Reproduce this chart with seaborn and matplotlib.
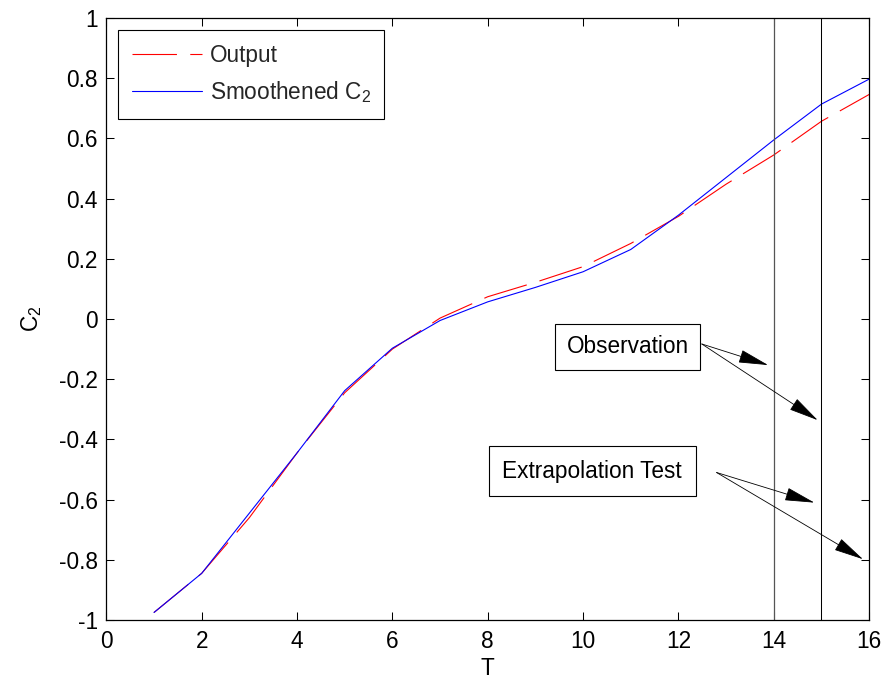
import numpy as np
import pandas as pd
import seaborn as sns
import matplotlib
matplotlib.use("Agg")
import matplotlib.pyplot as plt
from matplotlib.ticker import FuncFormatter

# ---- data ----
T = [1, 2, 3, 4, 5, 6, 7, 8, 9, 10, 11, 12, 13, 14, 15, 16]
output_vals = [-0.975, -0.845, -0.66, -0.445, -0.245, -0.10, 0.003, 0.074, 0.122,
               0.174, 0.251, 0.341, 0.448, 0.545, 0.657, 0.746]
smooth_vals = [-0.975, -0.845, -0.645, -0.445, -0.238, -0.097, -0.005, 0.057, 0.105,
               0.157, 0.231, 0.345, 0.47, 0.595, 0.714, 0.797]
vlines_x = [14, 15]
x_ticks = [0, 2, 4, 6, 8, 10, 12, 14, 16]
y_ticks = [-1, -0.8, -0.6, -0.4, -0.2, 0, 0.2, 0.4, 0.6, 0.8, 1]
labels = ["Output", "Smoothened C$_2$"]

sns.set_theme(style="white")
plt.rcParams["font.family"] = ["Liberation Sans", "DejaVu Sans"]
plt.rcParams["mathtext.fontset"] = "custom"
plt.rcParams["mathtext.rm"] = "Liberation Sans"
plt.rcParams["mathtext.it"] = "Liberation Sans:italic"
plt.rcParams["mathtext.default"] = "regular"

FS = 16.3

fig = plt.figure(figsize=(8.86, 6.82), dpi=100)
ax = fig.add_axes([0.120, 0.0909, 0.981 - 0.120, 0.9736 - 0.0909])

df = pd.DataFrame({"T": T, "Output": output_vals, "Smooth": smooth_vals})

lw = 0.8
sns.lineplot(data=df, x="T", y="Output", ax=ax, color=(1, 0, 0), lw=lw,
             linestyle=(0, (40, 12)), label=labels[0])
sns.lineplot(data=df, x="T", y="Smooth", ax=ax, color=(0, 0, 1), lw=lw,
             label=labels[1])

ax.axvline(vlines_x[0], color="#555555", lw=0.9)
ax.axvline(vlines_x[1], color="black", lw=0.75)

ax.set_xlim(0, 16)
ax.set_ylim(-1, 1)
ax.set_xticks(x_ticks)
ax.set_yticks(y_ticks)
ax.xaxis.set_major_formatter(FuncFormatter(lambda v, p: "%g" % v))
ax.yaxis.set_major_formatter(FuncFormatter(lambda v, p: "%g" % round(v, 2)))
ax.tick_params(axis="both", direction="in", length=6, width=0.75, color="black",
               labelsize=FS, labelcolor="black", top=True, right=True,
               bottom=True, left=True)
ax.tick_params(axis="y", pad=6)
ax.tick_params(axis="x", pad=7)
for sp in ax.spines.values():
    sp.set_color("black")
    sp.set_linewidth(0.9)

ax.set_xlabel("T", fontsize=FS, color="black", labelpad=3)
ax.set_ylabel("C$_2$", fontsize=FS, color="black", labelpad=11)

leg = ax.legend(loc="upper left", bbox_to_anchor=(11.6 / 762.6, 1 - 12 / 602),
                borderaxespad=0, fontsize=FS, handlelength=3.1, handletextpad=0.35,
                labelspacing=0.55, fancybox=False, edgecolor="black",
                framealpha=1, borderpad=0.6)
leg.get_frame().set_linewidth(0.8)

# annotations
ax.text(10.93, -0.093, "Observation", fontsize=FS, ha="center", va="center",
        bbox=dict(boxstyle="square,pad=0.5", fc="white", ec="black", lw=0.8),
        color="black")
ax.text(10.19, -0.505, "Extrapolation Test", fontsize=FS, ha="center",
        va="center", bbox=dict(boxstyle="square,pad=0.6", fc="white",
                               ec="black", lw=0.8), color="black")

arrow = dict(arrowstyle="-|>,head_length=1.9,head_width=0.42", color="black",
             lw=0.6, shrinkA=0, shrinkB=0, mutation_scale=10)
for tail, head in [((12.49, -0.083), (13.88, -0.153)),
                   ((12.49, -0.083), (14.92, -0.336)),
                   ((12.80, -0.51), (14.85, -0.61)),
                   ((12.80, -0.51), (15.87, -0.798))]:
    ax.annotate("", xy=head, xytext=tail, arrowprops=arrow)

fig.savefig("out.png", dpi=100)
